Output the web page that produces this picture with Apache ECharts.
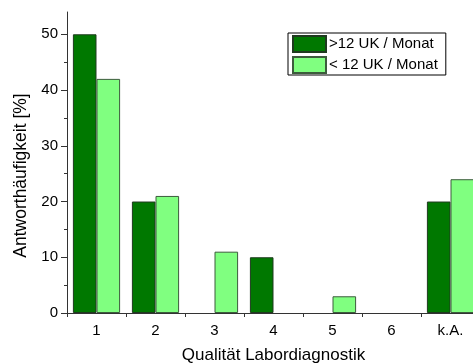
<!DOCTYPE html>
<html>
<head>
<meta charset="utf-8">
<script src="https://cdn.jsdelivr.net/npm/echarts@6/dist/echarts.min.js"></script>
<style>
  html, body { margin: 0; padding: 0; background: #fff; }
  #chart { width: 473px; height: 364px; }
</style>
</head>
<body>
<div id="chart"></div>
<script>
// Survey answers by rating of lab diagnostics quality
const categories = ['1', '2', '3', '4', '5', '6', 'k.A.'];
const moreThan12 = [50, 20, 0, 10, 0, 0, 20];
const lessThan12 = [42, 21, 11, 0, 3, 0, 24];
const majorTicks = [0, 10, 20, 30, 40, 50];
const minorTicks = [5, 15, 25, 35, 45];

const FONT = '"Liberation Sans", Arial, sans-serif';
const AXIS = '#333';

// empty answers leave no bar at all
const asBars = values => values.map(v => (v === 0 ? null : v));

const chart = echarts.init(document.getElementById('chart'));
chart.setOption({
  animation: false,
  backgroundColor: '#fff',
  grid: {
    left: 67, top: 12, width: 413, bottom: 51,
    containLabel: false,
    outerBoundsMode: 'none'
  },
  legend: {
    left: 288, top: 33,
    orient: 'vertical',
    itemWidth: 33, itemHeight: 16, itemGap: 3,
    padding: [2, 8, 1, 4],
    borderColor: '#000', borderWidth: 1,
    icon: 'rect',
    textStyle: { fontFamily: FONT, fontSize: 15, color: '#000', padding: [0, 0, 0, -2] },
    data: ['>12 UK / Monat', '< 12 UK / Monat']
  },
  xAxis: {
    type: 'category',
    data: categories,
    name: 'Qualität Labordiagnostik',
    nameLocation: 'middle',
    nameGap: 34,
    nameTextStyle: { fontFamily: FONT, fontSize: 17, color: '#000' },
    axisLine: { lineStyle: { color: AXIS, width: 1 } },
    axisTick: { show: true, inside: false, length: 4, lineStyle: { color: AXIS } },
    axisLabel: { fontFamily: FONT, fontSize: 15, color: '#000', margin: 10 },
    splitLine: { show: false }
  },
  yAxis: [
    {
      type: 'value',
      min: 0, max: 54, interval: 10,
      name: 'Antworthäufigkeit [%]',
      nameLocation: 'middle',
      nameGap: 32,
      nameTextStyle: { fontFamily: FONT, fontSize: 17.5, color: '#000', padding: [0, 26, 0, 0] },
      axisLine: { show: true, lineStyle: { color: AXIS, width: 1 } },
      axisTick: { show: true, length: 6, customValues: majorTicks, lineStyle: { color: AXIS } },
      axisLabel: { fontFamily: FONT, fontSize: 15, color: '#000', margin: 9, customValues: majorTicks },
      splitLine: { show: false }
    },
    {
      type: 'value',
      position: 'left',
      min: 0, max: 54,
      axisLine: { show: false },
      axisTick: { show: true, length: 3, customValues: minorTicks, lineStyle: { color: AXIS } },
      axisLabel: { show: false },
      splitLine: { show: false }
    }
  ],
  series: [
    {
      name: '>12 UK / Monat',
      type: 'bar',
      data: asBars(moreThan12),
      barGap: '0%',
      barCategoryGap: '20%',
      itemStyle: { color: '#007800', borderColor: '#1f3a1f', borderWidth: 1 }
    },
    {
      name: '< 12 UK / Monat',
      type: 'bar',
      data: asBars(lessThan12),
      barGap: '0%',
      barCategoryGap: '20%',
      itemStyle: { color: '#80ff80', borderColor: '#3c5c3c', borderWidth: 1 }
    }
  ]
});
</script>
</body>
</html>
